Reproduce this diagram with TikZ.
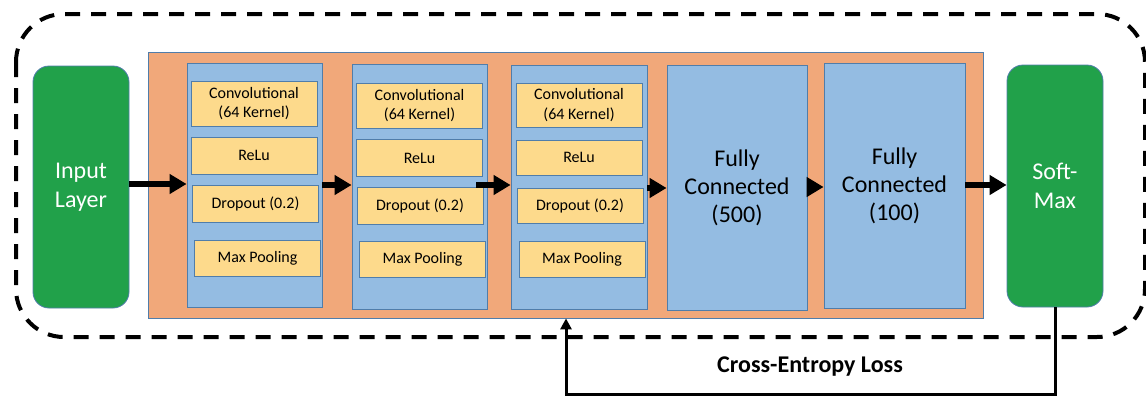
\documentclass[tikz,border=0pt]{standalone}
\usepackage{fontspec}
\setmainfont{Carlito}
\usetikzlibrary{arrows.meta}

\definecolor{netgreen}{RGB}{33,161,74}
\definecolor{netorange}{RGB}{241,168,122}
\definecolor{netblue}{RGB}{148,188,226}
\definecolor{netyellow}{RGB}{253,218,140}
\definecolor{netedge}{RGB}{80,125,170}

\tikzset{
  endbox/.style={draw=netedge, line width=0.8pt, fill=netgreen, rounded corners=16pt,
    minimum width=96pt, minimum height=242pt, text=white, align=center,
    font=\fontsize{24}{29}\selectfont},
  blockbox/.style={draw=netedge, line width=0.8pt, fill=netblue, inner sep=0pt},
  fcbox/.style={blockbox, align=center, font=\fontsize{24}{28}\selectfont},
  layerbox/.style={draw=netedge, line width=0.8pt, fill=netyellow, inner sep=0pt,
    minimum width=126pt, align=center, font=\fontsize{16}{19.5}\selectfont},
  flow/.style={line width=5.5pt, -{Triangle[length=17pt,width=19pt]}},
  feedback/.style={line width=3pt, -{Triangle[length=11pt,width=11pt]}},
  frame/.style={line width=4pt, dash pattern=on 15pt off 11pt, rounded corners=48pt}
}

\begin{document}
\begin{tikzpicture}[x=1pt,y=-1pt]
  \useasboundingbox[fill=white] (0,0) rectangle (1146,397);

  % dashed outline around the whole network
  \draw[frame] (16,14) rectangle (1145,337);

  % orange body holding the hidden layers
  \node[draw=netedge, line width=0.8pt, fill=netorange, inner sep=0pt,
        minimum width=835pt, minimum height=266pt] (body) at (565.5,185) {};

  % input and output
  \node[endbox] (input) at (81,187) {Input\\Layer};
  \node[endbox] (soft) at (1055,186) {Soft-\\Max};

  % convolutional blocks
  \node[blockbox, minimum width=135pt, minimum height=244pt] (b1) at (254.5,185) {};
  \node[blockbox, minimum width=135pt, minimum height=245pt] (b2) at (419.5,186.5) {};
  \node[blockbox, minimum width=136pt, minimum height=244pt] (b3) at (579,187) {};

  % fully connected layers
  \node[fcbox, minimum width=140pt, minimum height=245pt] (fc1) at (737,187.5) {Fully\\Connected\\(500)};
  \node[fcbox, minimum width=141pt, minimum height=245pt] (fc2) at (894.5,185.5) {Fully\\Connected\\(100)};

  % layers inside block 1
  \node[layerbox, minimum height=45pt] (c1) at (254,103.5) {Convolutional\\(64 Kernel)};
  \node[layerbox, minimum height=37pt] (r1) at (254,155.5) {ReLu};
  \node[layerbox, minimum height=37pt] (d1) at (255.5,203.5) {Dropout (0.2)};
  \node[layerbox, minimum height=36pt] (m1) at (257.5,258) {Max Pooling};

  % layers inside block 2
  \node[layerbox, minimum height=45pt] (c2) at (419.5,105.5) {Convolutional\\(64 Kernel)};
  \node[layerbox, minimum height=37pt] (r2) at (419.5,158) {ReLu};
  \node[layerbox, minimum height=37pt] (d2) at (420,205.5) {Dropout (0.2)};
  \node[layerbox, minimum height=36pt] (m2) at (422.5,259) {Max Pooling};

  % layers inside block 3
  \node[layerbox, minimum height=44pt] (c3) at (579,105) {Convolutional\\(64 Kernel)};
  \node[layerbox, minimum height=35pt] (r3) at (579,157.5) {ReLu};
  \node[layerbox, minimum height=35pt] (d3) at (580,205.5) {Dropout (0.2)};
  \node[layerbox, minimum height=36pt] (m3) at (582,259) {Max Pooling};

  % forward flow
  \coordinate (a0) at (129,184);
  \coordinate (a1) at (322,185);
  \coordinate (a2) at (476,185);
  \coordinate (a3) at (647,188);
  \coordinate (a4) at (807,187);
  \coordinate (a5) at (965,185);
  \draw[flow] (a0) -- (a0 -| b1.west);
  \draw[flow] (a1) -- (a1 -| b2.west);
  \draw[flow] (a2) -- (a2 -| b3.west);
  \draw[flow] (a3) -- (a3 -| fc1.west);
  \draw[flow] (a4) -- (a4 -| fc2.west);
  \draw[flow] (a5) -- (a5 -| soft.west);

  % loss fed back into the network
  \coordinate (lossturn) at (566,394);
  \draw[feedback] (soft.south) |- (lossturn) -- (lossturn |- body.south);
  \node[font=\bfseries\fontsize{24}{28}\selectfont] (loss) at (810,367) {Cross-Entropy Loss};
\end{tikzpicture}
\end{document}
